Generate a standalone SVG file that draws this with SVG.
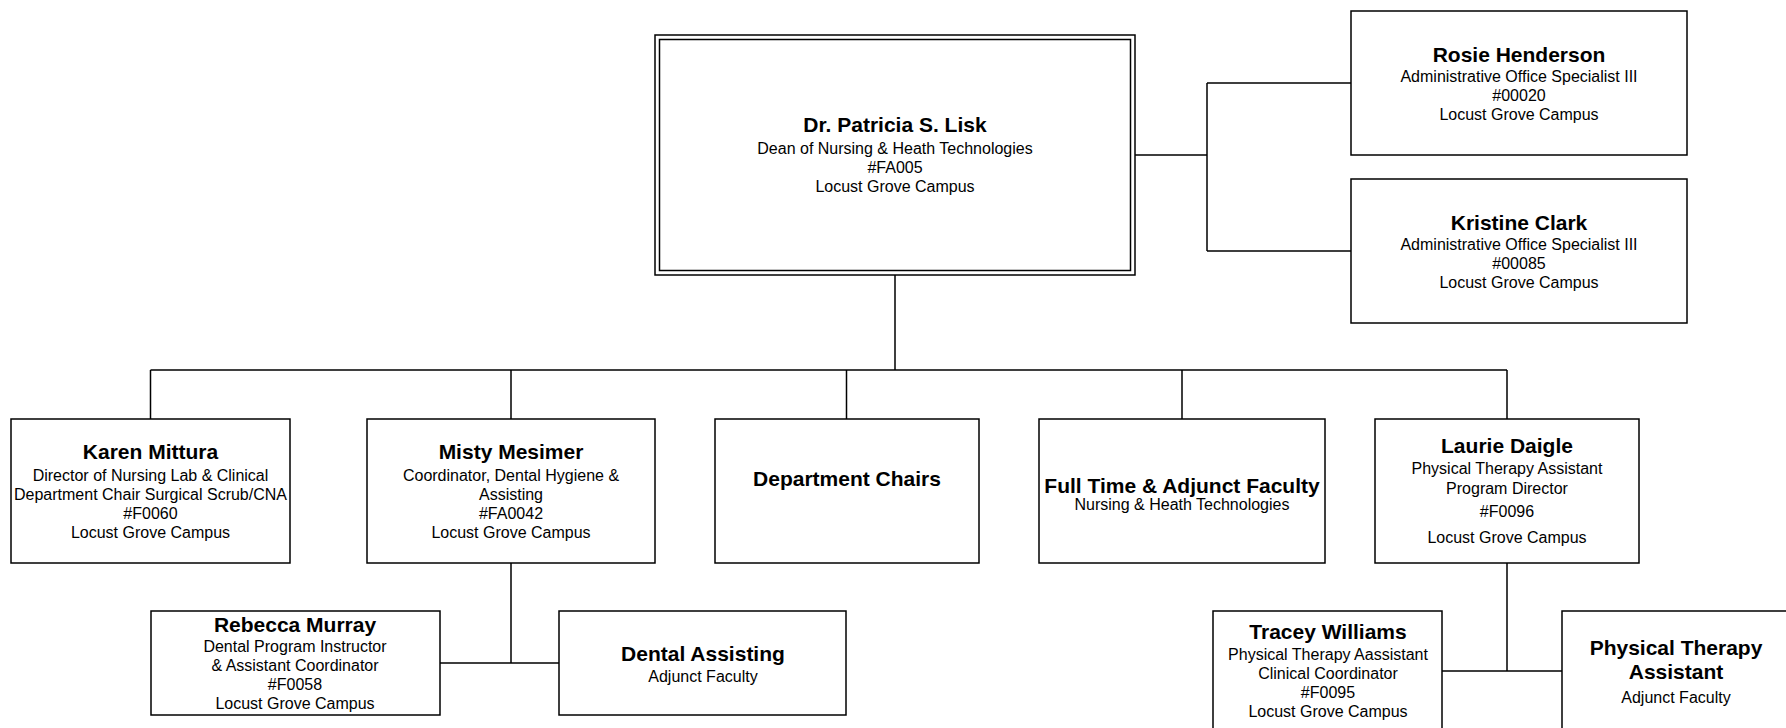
<svg xmlns="http://www.w3.org/2000/svg" width="1786" height="728" viewBox="0 0 1786 728">
<style>
.box{fill:#fff;stroke:#000;stroke-width:1.5}
.conn{fill:none;stroke:#000;stroke-width:1.5}
text{font-family:"Liberation Sans",Arial,sans-serif;fill:#000;text-anchor:middle}
.n{font-size:21px;font-weight:bold}
.s{font-size:16px}
</style>
<rect width="1786" height="728" fill="#fff"/>
<g id="connectors">
<path class="conn" d="M1135 155H1207M1207 83V251M1207 83H1351M1207 251H1351"/>
<path class="conn" d="M895 275V370M150.5 370H1507M150.5 370V419M511 370V419M846.5 370V419M1182 370V419M1507 370V419"/>
<path class="conn" d="M511 563V663M440 663H559"/>
<path class="conn" d="M1507 563V671M1442 671H1562"/>
</g>
<g id="root">
<rect class="box" x="655" y="35" width="480" height="240"/>
<rect class="box" x="659.5" y="39.5" width="471" height="231"/>
<text class="n" x="895" y="132">Dr. Patricia S. Lisk</text>
<text class="s" x="895" y="154">Dean of Nursing &amp; Heath Technologies</text>
<text class="s" x="895" y="173">#FA005</text>
<text class="s" x="895" y="192">Locust Grove Campus</text>
</g>
<g id="rosie">
<rect class="box" x="1351" y="11" width="336" height="144"/>
<text class="n" x="1519" y="62">Rosie Henderson</text>
<text class="s" x="1519" y="82">Administrative Office Specialist III</text>
<text class="s" x="1519" y="101">#00020</text>
<text class="s" x="1519" y="120">Locust Grove Campus</text>
</g>
<g id="kristine">
<rect class="box" x="1351" y="179" width="336" height="144"/>
<text class="n" x="1519" y="230">Kristine Clark</text>
<text class="s" x="1519" y="250">Administrative Office Specialist III</text>
<text class="s" x="1519" y="269">#00085</text>
<text class="s" x="1519" y="288">Locust Grove Campus</text>
</g>
<g id="karen">
<rect class="box" x="11" y="419" width="279" height="144"/>
<text class="n" x="150.5" y="459">Karen Mittura</text>
<text class="s" x="150.5" y="481">Director of Nursing Lab &amp; Clinical</text>
<text class="s" x="150.5" y="500">Department Chair Surgical Scrub/CNA</text>
<text class="s" x="150.5" y="519">#F0060</text>
<text class="s" x="150.5" y="538">Locust Grove Campus</text>
</g>
<g id="misty">
<rect class="box" x="367" y="419" width="288" height="144"/>
<text class="n" x="511" y="459">Misty Mesimer</text>
<text class="s" x="511" y="481">Coordinator, Dental Hygiene &amp;</text>
<text class="s" x="511" y="500">Assisting</text>
<text class="s" x="511" y="519">#FA0042</text>
<text class="s" x="511" y="538">Locust Grove Campus</text>
</g>
<g id="dept-chairs">
<rect class="box" x="715" y="419" width="264" height="144"/>
<text class="n" x="847" y="486">Department Chairs</text>
</g>
<g id="full-time">
<rect class="box" x="1039" y="419" width="286" height="144"/>
<text class="n" x="1182" y="493">Full Time &amp; Adjunct Faculty</text>
<text class="s" x="1182" y="510">Nursing &amp; Heath Technologies</text>
</g>
<g id="laurie">
<rect class="box" x="1375" y="419" width="264" height="144"/>
<text class="n" x="1507" y="453">Laurie Daigle</text>
<text class="s" x="1507" y="474">Physical Therapy Assistant</text>
<text class="s" x="1507" y="494">Program Director</text>
<text class="s" x="1507" y="517">#F0096</text>
<text class="s" x="1507" y="543">Locust Grove Campus</text>
</g>
<g id="rebecca">
<rect class="box" x="151" y="611" width="289" height="104"/>
<text class="n" x="295" y="632">Rebecca Murray</text>
<text class="s" x="295" y="652">Dental Program Instructor</text>
<text class="s" x="295" y="671">&amp; Assistant Coordinator</text>
<text class="s" x="295" y="690">#F0058</text>
<text class="s" x="295" y="709">Locust Grove Campus</text>
</g>
<g id="dental-assisting">
<rect class="box" x="559" y="611" width="287" height="104"/>
<text class="n" x="703" y="661">Dental Assisting</text>
<text class="s" x="703" y="682">Adjunct Faculty</text>
</g>
<g id="tracey">
<rect class="box" x="1213" y="611" width="229" height="140"/>
<text class="n" x="1328" y="639">Tracey Williams</text>
<text class="s" x="1328" y="660">Physical Therapy Aassistant</text>
<text class="s" x="1328" y="679">Clinical Coordinator</text>
<text class="s" x="1328" y="698">#F0095</text>
<text class="s" x="1328" y="717">Locust Grove Campus</text>
</g>
<g id="pta">
<rect class="box" x="1562" y="611" width="230" height="140"/>
<text class="n" x="1676" y="655">Physical Therapy</text>
<text class="n" x="1676" y="679">Assistant</text>
<text class="s" x="1676" y="703">Adjunct Faculty</text>
</g>
</svg>
